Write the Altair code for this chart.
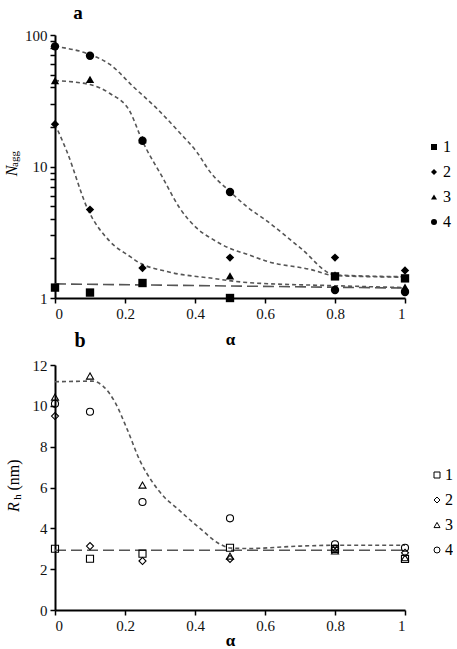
import altair as alt
import pandas as pd

FONT = "Liberation Serif"

# ---------------- data ----------------
alpha = [0, 0.1, 0.25, 0.5, 0.8, 1]
series = ["1", "2", "3", "4"]

# panel a: N_agg (log scale)
nagg_1 = [1.20, 1.10, 1.30, 1.00, 1.46, 1.41]
nagg_2 = [21.0, 4.7, 1.69, 2.03, 2.03, 1.62]
nagg_3 = [45.0, 46.0, 16.0, 1.47, 1.50, 1.21]
nagg_4 = [82.0, 69.5, 15.7, 6.4, 1.15, 1.11]

# fitted curves, panel a
fit_a1_alpha = [0, 1]
fit_a1 = [1.28, 1.19]
fit_a2_alpha = [0, 0.034, 0.094, 0.157, 0.214, 0.234, 0.32, 0.451, 0.551, 0.8, 1]
fit_a2 = [21.0, 13.0, 4.71, 2.69, 2.07, 1.90, 1.59, 1.41, 1.31, 1.24, 1.20]
fit_a3_alpha = [0, 0.1, 0.157, 0.214, 0.249, 0.309, 0.357, 0.406, 0.451, 0.5, 0.551, 0.606, 0.729, 0.8, 1]
fit_a3 = [45.0, 42.0, 35.9, 26.2, 15.8, 8.1, 4.8, 3.38, 2.79, 2.38, 2.14, 1.90, 1.65, 1.48, 1.44]
fit_a4_alpha = [0, 0.1, 0.157, 0.223, 0.291, 0.357, 0.406, 0.443, 0.5, 0.55, 0.6, 0.7, 0.8, 1]
fit_a4 = [81.8, 71.0, 59.7, 40.6, 27.6, 18.0, 12.8, 9.1, 6.45, 4.9, 3.95, 2.42, 1.50, 1.45]

# panel b: R_h (nm)
rh_1 = [3.0, 2.51, 2.76, 3.05, 2.99, 2.50]
rh_2 = [9.5, 3.13, 2.40, 2.50, 3.0, 2.80]
rh_3 = [10.43, 11.46, 6.12, 2.64, 2.89, 2.56]
rh_4 = [10.1, 9.71, 5.29, 4.49, 3.22, 3.05]

fit_b_alpha = [0, 0.06, 0.106, 0.137, 0.171, 0.206, 0.243, 0.277, 0.314, 0.349, 0.38, 0.414, 0.471, 0.5, 0.55, 0.7, 0.8, 1]
fit_b = [11.18, 11.2, 11.21, 10.97, 10.19, 8.86, 7.3, 6.3, 5.5, 4.98, 4.5, 4.0, 3.23, 3.04, 3.01, 3.13, 3.17, 3.17]
fit_b1_alpha = [0, 1]
fit_b1 = [2.93, 2.93]

x_ticks = [0, 0.2, 0.4, 0.6, 0.8, 1]
ya_ticks = [1, 2, 3, 4, 5, 6, 7, 8, 9, 10, 20, 30, 40, 50, 60, 70, 80, 90, 100]
yb_ticks = [0, 2, 4, 6, 8, 10, 12]
shapes = ["square", "diamond", "triangle-up", "circle"]


def pts(vals_list):
    return pd.DataFrame(
        [{"alpha": a, "value": v, "series": s}
         for s, vals in zip(series, vals_list) for a, v in zip(alpha, vals)]
    )


def curves(pairs):
    rows = []
    for cid, (xs, ys) in enumerate(pairs):
        for a, v in zip(xs, ys):
            rows.append({"alpha": a, "value": v, "curve": str(cid)})
    return pd.DataFrame(rows)


def label(text, x, y, size, style="normal", weight="normal", angle=0, baseline="middle"):
    return alt.Chart(pd.DataFrame({"t": [text]})).mark_text(
        font=FONT, fontSize=size, fontStyle=style, fontWeight=weight,
        angle=angle, align="center", baseline=baseline, color="black"
    ).encode(x=alt.value(x), y=alt.value(y), text="t:N")


def x_enc(title_y):
    return alt.X(
        "alpha:Q",
        scale=alt.Scale(domain=[0, 1], nice=False, zero=False),
        axis=alt.Axis(values=x_ticks, format="~g", title="α", titleFont=FONT,
                      titleFontSize=17, titleFontWeight="bold",
                      titleBaseline="middle", titleY=title_y),
    )


def legend(x, y, fill, offset):
    return alt.Legend(orient="none", legendX=x, legendY=y, title=None,
                      labelFont=FONT, labelFontSize=16, labelColor="black",
                      symbolSize=36, symbolFillColor=fill,
                      symbolStrokeColor="black", symbolStrokeWidth=1,
                      rowPadding=9, labelOffset=offset, padding=0)


xa = x_enc(41)
xb = x_enc(30)

# ---------------- panel a ----------------
ya_enc = alt.Y(
    "value:Q",
    scale=alt.Scale(type="log", domain=[1, 100], nice=False),
    axis=alt.Axis(values=ya_ticks, format="~g",
                  labelExpr="indexof([1,10,100], datum.value) >= 0 ? datum.label : ''",
                  title=None),
)

lines_a_short = alt.Chart(curves([(fit_a2_alpha, fit_a2), (fit_a3_alpha, fit_a3),
                                  (fit_a4_alpha, fit_a4)])).mark_line(
    color="#555555", strokeWidth=1.6, strokeDash=[4, 3], interpolate="monotone"
).encode(x=xa, y=ya_enc, detail="curve:N")

lines_a_long = alt.Chart(curves([(fit_a1_alpha, fit_a1)])).mark_line(
    color="#555555", strokeWidth=1.6, strokeDash=[11, 5]
).encode(x=xa, y=ya_enc, detail="curve:N")

points_a = alt.Chart(pts([nagg_1, nagg_2, nagg_3, nagg_4])).mark_point(
    filled=True, color="black", size=70, opacity=1
).encode(
    x=xa, y=ya_enc,
    shape=alt.Shape("series:N", scale=alt.Scale(domain=series, range=shapes),
                    legend=legend(371, 104, "black", 1)),
)

panel_a = alt.layer(
    lines_a_long, lines_a_short, points_a,
    label("a", 23, -16.5, 19, weight="bold", baseline="alphabetic"),
    label("N", -43, 136, 16, style="italic", angle=270),
    label("agg", -40, 124, 11, angle=270),
).properties(width=350, height=263)

# ---------------- panel b ----------------
yb_enc = alt.Y(
    "value:Q",
    scale=alt.Scale(domain=[0, 12], nice=False),
    axis=alt.Axis(values=yb_ticks, format="~g", title=None),
)

lines_b_short = alt.Chart(curves([(fit_b_alpha, fit_b)])).mark_line(
    color="#555555", strokeWidth=1.6, strokeDash=[4, 3], interpolate="monotone"
).encode(x=xb, y=yb_enc, detail="curve:N")

lines_b_long = alt.Chart(curves([(fit_b1_alpha, fit_b1)])).mark_line(
    color="#555555", strokeWidth=1.6, strokeDash=[11, 5]
).encode(x=xb, y=yb_enc, detail="curve:N")

points_b = alt.Chart(pts([rh_1, rh_2, rh_3, rh_4])).mark_point(
    filled=False, color="black", size=50, strokeWidth=1.1, opacity=1
).encode(
    x=xb, y=yb_enc,
    shape=alt.Shape("series:N", scale=alt.Scale(domain=series, range=shapes),
                    legend=legend(374, 102, "white", 0)),
)

panel_b = alt.layer(
    lines_b_long, lines_b_short, points_b,
    label("b", 25, -24, 20, weight="bold"),
    label("R", -41, 142, 16, style="italic", angle=270),
    label("h", -37, 132, 11, angle=270),
    label("(nm)", -41, 110, 16, angle=270),
).properties(width=350, height=245)

chart = alt.vconcat(panel_a, panel_b, spacing=67, bounds="flush").resolve_scale(
    shape="independent"
).resolve_legend(shape="independent").properties(
    padding={"left": 4, "top": 3, "right": 0, "bottom": 0}
).configure_view(stroke=None).configure_axis(
    domainColor="black", domainWidth=2, tickColor="black", tickWidth=1.5,
    tickSize=5, labelFont=FONT, labelFontSize=15, labelColor="#111111",
    labelPadding=3, grid=False, titleColor="black",
)

chart.save("out.html", embed_options={"renderer": "svg", "actions": False})
